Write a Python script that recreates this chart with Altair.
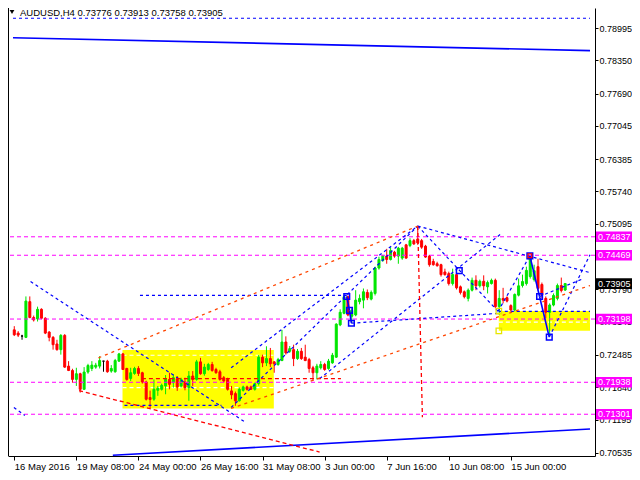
import altair as alt
import pandas as pd

# ---------------- data ----------------
OPEN = [0.72983, 0.72918, 0.72859, 0.72833, 0.73544, 0.73228, 0.73200, 0.73392, 0.73214, 0.72938,
        0.72833, 0.72701, 0.72588, 0.72872, 0.72260, 0.72173, 0.71995, 0.72108, 0.71798, 0.72142,
        0.72213, 0.72240, 0.72260, 0.72359, 0.72359, 0.72161, 0.72148, 0.72359, 0.72503, 0.72213,
        0.72015, 0.72114, 0.72213, 0.72128, 0.71944, 0.71634, 0.71600, 0.71778, 0.71798, 0.71865,
        0.71995, 0.71930, 0.72009, 0.71865, 0.71944, 0.71832, 0.72063, 0.71995, 0.72345, 0.72108,
        0.72193, 0.72292, 0.72193, 0.72148, 0.72029, 0.71995, 0.71766, 0.71713, 0.71569, 0.71778,
        0.71845, 0.71845, 0.71798, 0.71911, 0.72438, 0.72325, 0.72410, 0.72345, 0.72292, 0.72371,
        0.72740, 0.72556, 0.72588, 0.72410, 0.72556, 0.72438, 0.72390, 0.72227, 0.72128, 0.72227,
        0.72292, 0.72213, 0.72325, 0.72438, 0.73082, 0.73313, 0.73643, 0.73254, 0.73279, 0.73544,
        0.73575, 0.73728, 0.73595, 0.73708, 0.74215, 0.74365, 0.74452, 0.74385, 0.74531, 0.74452,
        0.74413, 0.74676, 0.74662, 0.74760, 0.74794, 0.74760, 0.74650, 0.74452, 0.74346, 0.74300,
        0.74281, 0.74136, 0.74103, 0.73905, 0.74083, 0.73840, 0.73741, 0.73609, 0.73773, 0.73970,
        0.73860, 0.73951, 0.73840, 0.73905, 0.73970, 0.73445, 0.73609, 0.73623, 0.73465, 0.73378,
        0.73674, 0.73866, 0.73905, 0.74044, 0.73984, 0.74241, 0.73886, 0.73609, 0.73333, 0.73477,
        0.73609, 0.73866, 0.73776]
HIGH = [0.73056, 0.72957, 0.72884, 0.73649, 0.73649, 0.73267, 0.73445, 0.73412, 0.73234, 0.72957,
        0.72859, 0.72785, 0.72898, 0.72898, 0.72359, 0.72207, 0.72227, 0.72128, 0.72240, 0.72306,
        0.72359, 0.72325, 0.72458, 0.72365, 0.72385, 0.72280, 0.72404, 0.72523, 0.72523, 0.72227,
        0.72227, 0.72246, 0.72260, 0.72148, 0.71970, 0.71772, 0.71995, 0.71865, 0.71911, 0.72082,
        0.72128, 0.72094, 0.72063, 0.72029, 0.72029, 0.72161, 0.72161, 0.72385, 0.72424, 0.72306,
        0.72325, 0.72345, 0.72227, 0.72187, 0.72063, 0.72029, 0.71865, 0.71753, 0.71832, 0.71871,
        0.71871, 0.71871, 0.71930, 0.72483, 0.72489, 0.72655, 0.72622, 0.72359, 0.72424, 0.72983,
        0.72853, 0.72661, 0.72687, 0.72602, 0.72622, 0.72687, 0.72424, 0.72266, 0.72306, 0.72359,
        0.72325, 0.72404, 0.72523, 0.73115, 0.73392, 0.73674, 0.73668, 0.73412, 0.73773, 0.73688,
        0.73807, 0.73787, 0.73767, 0.74241, 0.74439, 0.74478, 0.74597, 0.74630, 0.74557, 0.74636,
        0.74636, 0.74695, 0.74808, 0.74794, 0.75051, 0.74794, 0.74676, 0.74478, 0.74399, 0.74340,
        0.74300, 0.74202, 0.74142, 0.74202, 0.74123, 0.73866, 0.73767, 0.73807, 0.74024, 0.74069,
        0.73984, 0.74069, 0.73965, 0.74004, 0.74004, 0.73773, 0.73820, 0.73649, 0.73491, 0.73708,
        0.74004, 0.74083, 0.74241, 0.74458, 0.74281, 0.74399, 0.73925, 0.73649, 0.73510, 0.73708,
        0.73905, 0.74024, 0.73913]
LOW = [0.72859, 0.72839, 0.72785, 0.72819, 0.73214, 0.73149, 0.73149, 0.73194, 0.72898, 0.72754,
       0.72588, 0.72568, 0.72489, 0.72227, 0.72161, 0.71930, 0.71865, 0.71733, 0.71792, 0.72108,
       0.72161, 0.72207, 0.72213, 0.72148, 0.72128, 0.72128, 0.72128, 0.72345, 0.72187, 0.71970,
       0.71964, 0.72088, 0.72063, 0.71911, 0.71575, 0.71423, 0.71569, 0.71668, 0.71772, 0.71699,
       0.71798, 0.71832, 0.71766, 0.71832, 0.71778, 0.71569, 0.71865, 0.71970, 0.72088, 0.72069,
       0.72167, 0.72148, 0.72108, 0.71970, 0.71930, 0.71772, 0.71600, 0.71470, 0.71555, 0.71753,
       0.71772, 0.71792, 0.71772, 0.71871, 0.72240, 0.72260, 0.72240, 0.72128, 0.72266, 0.72359,
       0.72489, 0.72523, 0.72260, 0.72385, 0.72385, 0.72359, 0.72128, 0.71964, 0.71995, 0.72193,
       0.72167, 0.72187, 0.72306, 0.72424, 0.73056, 0.73293, 0.73254, 0.73115, 0.73254, 0.73491,
       0.73412, 0.73575, 0.73570, 0.73668, 0.74182, 0.74340, 0.74300, 0.74365, 0.74419, 0.74300,
       0.74379, 0.74399, 0.74630, 0.74676, 0.74676, 0.74597, 0.74419, 0.74241, 0.74261, 0.74241,
       0.74044, 0.74063, 0.73866, 0.73866, 0.73787, 0.73688, 0.73609, 0.73550, 0.73747, 0.73773,
       0.73826, 0.73773, 0.73708, 0.73886, 0.73412, 0.73279, 0.73510, 0.73530, 0.73352, 0.73352,
       0.73649, 0.73826, 0.73866, 0.74004, 0.73945, 0.73767, 0.73609, 0.73214, 0.72839, 0.73451,
       0.73570, 0.73728, 0.73758]
CLOSE = [0.72884, 0.72878, 0.72859, 0.73556, 0.73228, 0.73180, 0.73392, 0.73214, 0.72918, 0.72833,
         0.72687, 0.72588, 0.72872, 0.72240, 0.72173, 0.71995, 0.72108, 0.71798, 0.72142, 0.72272,
         0.72280, 0.72280, 0.72371, 0.72359, 0.72148, 0.72213, 0.72371, 0.72503, 0.72193, 0.71995,
         0.72128, 0.72213, 0.72114, 0.71944, 0.71600, 0.71595, 0.71798, 0.71818, 0.71877, 0.71995,
         0.71897, 0.72029, 0.71845, 0.71995, 0.71832, 0.72063, 0.71995, 0.72345, 0.72108, 0.72240,
         0.72292, 0.72173, 0.72128, 0.71995, 0.71964, 0.71798, 0.71687, 0.71569, 0.71798, 0.71845,
         0.71798, 0.71798, 0.71911, 0.72438, 0.72325, 0.72410, 0.72306, 0.72306, 0.72390, 0.72740,
         0.72523, 0.72608, 0.72410, 0.72556, 0.72410, 0.72371, 0.72213, 0.72128, 0.72260, 0.72292,
         0.72193, 0.72359, 0.72477, 0.73096, 0.73333, 0.73643, 0.73279, 0.73372, 0.73575, 0.73609,
         0.73741, 0.73623, 0.73728, 0.74215, 0.74385, 0.74452, 0.74385, 0.74563, 0.74452, 0.74610,
         0.74610, 0.74413, 0.74760, 0.74695, 0.74715, 0.74630, 0.74433, 0.74281, 0.74281, 0.74261,
         0.74083, 0.74083, 0.73905, 0.74083, 0.73820, 0.73728, 0.73643, 0.73773, 0.73970, 0.73860,
         0.73951, 0.73860, 0.73925, 0.73970, 0.73445, 0.73609, 0.73575, 0.73556, 0.73378, 0.73688,
         0.73860, 0.73945, 0.74168, 0.74399, 0.74162, 0.73807, 0.73674, 0.73333, 0.73477, 0.73668,
         0.73866, 0.73767, 0.73905]

TICK_IDX = [0, 16, 32, 48, 64, 80, 96, 112, 128]
TICK_LABELS = ["16 May 2016", "19 May 08:00", "24 May 00:00", "26 May 16:00", "31 May 08:00",
               "3 Jun 00:00", "7 Jun 16:00", "10 Jun 08:00", "15 Jun 00:00"]
PRICE_TICKS = [0.78995, 0.78350, 0.77690, 0.77045, 0.76385, 0.75740, 0.75095, 0.74440,
               0.73790, 0.73145, 0.72485, 0.71840, 0.71195, 0.70535]
LEVELS = [0.74837, 0.74469, 0.73198, 0.71938, 0.71301]
LAST_PRICE = 0.73905
HEADER = "AUDUSD,H4  0.73776 0.73913 0.73758 0.73905"

# analysis objects: (bar index, price) -> (bar index, price)
BLUE_DASH_SEGS = [
    (-0.33, 0.79192, 148.4, 0.79192),
    (4.2, 0.73945, 59.2, 0.71160),
    (55.9, 0.71436, 104.0, 0.75051),
    (55.9, 0.72226, 104.0, 0.75051),
    (32.4, 0.73668, 85.7, 0.73668),
    (28.4, 0.71476, 53.4, 0.71476),
    (78.7, 0.72009, 125.4, 0.74893),
    (104.0, 0.75051, 124.7, 0.73352),
    (104.0, 0.75051, 148.4, 0.74123),
    (86.9, 0.73115, 124.9, 0.73313),
    (124.9, 0.73352, 148.4, 0.73352),
    (124.7, 0.73352, 132.9, 0.74458),
    (137.9, 0.72839, 148.4, 0.74478),
    (135.4, 0.73648, 146.7, 0.74004),
    (-0.1, 0.71436, 2.7, 0.71278),
]
BLUE_SOLID_SEGS = [
    (-0.33, 0.78803, 148.4, 0.78547),
    (25.4, 0.70483, 148.4, 0.71008),
    (85.7, 0.73648, 86.4, 0.73372),
    (86.4, 0.73372, 86.9, 0.73115),
    (132.9, 0.74458, 135.4, 0.73648),
    (135.4, 0.73648, 137.9, 0.72839),
]
RED_DASH_SEGS = [
    (16.7, 0.71772, 78.7, 0.70548),
    (104.0, 0.75051, 105.2, 0.71239),
    (32.9, 0.72009, 84.2, 0.72009),
]
ORANGE_DASH_SEGS = [
    (21.7, 0.72424, 104.0, 0.75051),
    (55.9, 0.71417, 148.4, 0.73866),
]
YELLOW_BOXES = [(27.9, 0.71417, 66.9, 0.72582), (124.9, 0.72963, 148.4, 0.73358)]
WHITE_DASH = [(27.9, 0.72477, 66.9, 0.72477), (27.9, 0.71832, 66.9, 0.71832),
              (124.9, 0.73135, 148.4, 0.73135)]
BLUE_SQUARES = [(85.7, 0.73648), (86.4, 0.73372), (86.9, 0.73115), (114.7, 0.74162),
                (132.9, 0.74458), (135.4, 0.73648), (137.9, 0.72839)]
RED_SQUARES = [(132.9, 0.74458)]
YELLOW_SQUARES = [(124.9, 0.73358), (124.9, 0.72963)]

# ---------------- layout ----------------
W, H = 587, 448
XDOM = [-0.33, 148.4]
YDOM = [0.70469, 0.79396]
FONT = "Liberation Sans"

label_expr = "".join(f"datum.value == {v} ? '{l}' : " for v, l in zip(TICK_IDX, TICK_LABELS)) + "''"
xaxis = alt.Axis(values=TICK_IDX, labelExpr=label_expr, title=None, orient="bottom", grid=False,
                 domainColor="black", tickColor="black", tickSize=4, labelAlign="left",
                 labelBaseline="top", labelPadding=1, labelFont=FONT, labelFontSize=9.5,
                 labelColor="black", labelFlush=False, labelOverlap=False)
yaxis = alt.Axis(values=PRICE_TICKS, format=".5f", title=None, orient="right", grid=False,
                 domainColor="black", tickColor="black", tickSize=3, labelPadding=1,
                 labelFont=FONT, labelFontSize=9, labelColor="black", labelOverlap=False,
                 labelFlush=False)
xs = alt.Scale(domain=XDOM, nice=False, zero=False)
ys = alt.Scale(domain=YDOM, nice=False, zero=False)


def X(f):
    return alt.X(f"{f}:Q", scale=xs, axis=xaxis)


def Y(f):
    return alt.Y(f"{f}:Q", scale=ys, axis=yaxis)


def segs(rows):
    return pd.DataFrame(rows, columns=["i", "p", "i2", "p2"])


def seg_layer(rows, color, dash=None, width=1.0):
    kw = dict(color=color, strokeWidth=width)
    if dash:
        kw["strokeDash"] = dash
    return alt.Chart(segs(rows)).mark_rule(**kw).encode(
        x=X("i"), y=Y("p"), x2=alt.X2("i2"), y2=alt.Y2("p2"))


def pts(rows):
    return pd.DataFrame(rows, columns=["i", "p"])


candles = pd.DataFrame({"i": list(range(len(OPEN))), "o": OPEN, "h": HIGH, "l": LOW, "c": CLOSE})
col_expr = "datum.c > datum.o ? '#00e600' : (datum.c < datum.o ? '#ff0000' : '#000000')"

boxes = alt.Chart(segs(YELLOW_BOXES)).mark_rect(color="#ffff00").encode(
    x=X("i"), x2=alt.X2("i2"), y=Y("p"), y2=alt.Y2("p2"))
white = seg_layer(WHITE_DASH, "#ffffff", [4, 3], 1.2)

wicks = alt.Chart(candles).transform_calculate(col=col_expr).mark_rule(strokeWidth=1).encode(
    x=X("i"), y=Y("l"), y2=alt.Y2("h"), color=alt.Color("col:N", scale=None))
bodies = alt.Chart(candles).transform_calculate(col=col_expr).mark_bar(width=2, strokeWidth=1).encode(
    x=X("i"), y=Y("o"), y2=alt.Y2("c"),
    fill=alt.Fill("col:N", scale=None), stroke=alt.Stroke("col:N", scale=None))

levels = alt.Chart(pd.DataFrame({"p": LEVELS})).mark_rule(
    color="#ff00ff", strokeDash=[4, 3], strokeWidth=1).encode(y=Y("p"))

blue_dash = seg_layer(BLUE_DASH_SEGS, "#0000ff", [3, 3], 1.2)
blue_solid = seg_layer(BLUE_SOLID_SEGS, "#0000ff", None, 1.6)
red_dash = seg_layer(RED_DASH_SEGS, "#ff0000", [4, 3], 1.3)
orange_dash = seg_layer(ORANGE_DASH_SEGS, "#ff4500", [3, 4], 1.3)

blue_sq = alt.Chart(pts(BLUE_SQUARES)).mark_point(
    shape="square", filled=False, size=32, strokeWidth=1.5, color="#0000ff", opacity=1).encode(
    x=X("i"), y=Y("p"))
red_sq = alt.Chart(pts(RED_SQUARES)).mark_point(
    shape="square", filled=False, size=14, strokeWidth=1.2, color="#ff0000", opacity=1).encode(
    x=X("i"), y=Y("p"))
yel_sq = alt.Chart(pts(YELLOW_SQUARES)).mark_point(
    shape="square", filled=False, size=30, strokeWidth=1.3, color="#e6e600", opacity=1).encode(
    x=X("i"), y=Y("p"))

left_border = alt.Chart(pd.DataFrame({"a": [0]})).mark_rule(color="black", strokeWidth=1).encode(
    x=alt.value(0.5), y=alt.value(0), y2=alt.value(H))

tag_df = pd.DataFrame({"p": LEVELS + [LAST_PRICE],
                       "bg": ["#ff00ff"] * len(LEVELS) + ["#000000"]})
tags = alt.Chart(tag_df).transform_calculate(
    p_hi="datum.p + 0.00106", p_lo="datum.p - 0.00106").mark_rect().encode(
    x=alt.value(W + 1), x2=alt.value(W + 37), y=Y("p_hi"), y2=alt.Y2("p_lo"),
    fill=alt.Fill("bg:N", scale=None))
tag_text = alt.Chart(tag_df).mark_text(
    align="left", baseline="middle", font=FONT, fontSize=9, color="white").encode(
    x=alt.value(W + 3), y=Y("p"), text=alt.Text("p:Q", format=".5f"))

header = alt.Chart(pd.DataFrame({"t": [HEADER]})).mark_text(
    align="left", baseline="alphabetic", font=FONT, fontSize=9.5, color="black").encode(
    x=alt.value(12), y=alt.value(8), text="t:N")
tri = alt.Chart(pd.DataFrame({"a": [0]})).mark_point(
    shape="triangle-down", filled=True, size=22, color="black", opacity=1).encode(
    x=alt.value(4), y=alt.value(4))

chart = alt.layer(
    boxes, white, wicks, bodies, levels, blue_solid, blue_dash, red_dash, orange_dash,
    blue_sq, red_sq, yel_sq, left_border, tags, tag_text, header, tri
).properties(
    width=W, height=H,
    autosize=alt.AutoSizeParams(type="none"),
    padding={"left": 0, "top": 0, "right": 37, "bottom": 16},
    background="white",
).configure_view(stroke=None)

chart.save("out.html", embed_options={"renderer": "svg", "actions": False})
